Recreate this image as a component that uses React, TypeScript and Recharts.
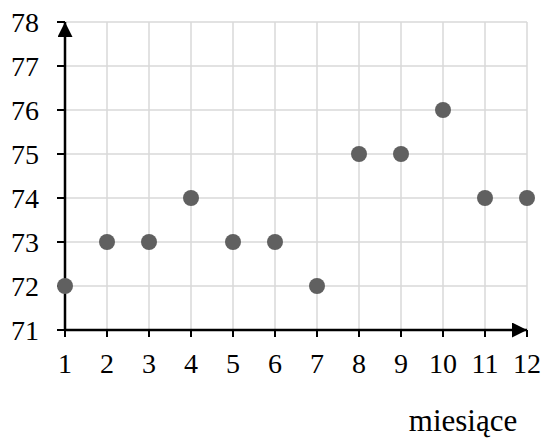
import React from "react";
import { ScatterChart, Scatter, XAxis, YAxis, CartesianGrid } from "recharts";

const months = [1, 2, 3, 4, 5, 6, 7, 8, 9, 10, 11, 12];
const values = [72, 73, 73, 74, 73, 73, 72, 75, 75, 76, 74, 74];
const yTicks = [71, 72, 73, 74, 75, 76, 77, 78];
const xLabel = "miesiące";

const data = months.map((m, i) => ({ x: m, y: values[i] }));

const font = "Liberation Serif";

export default function App() {
  return (
    <div style={{ position: "absolute", left: 0, top: 0, width: 544, height: 439, background: "#fff", fontFamily: font }}>
      <ScatterChart width={544} height={439} margin={{ top: 22, right: 17, bottom: 0, left: 0 }} style={{ fontFamily: font }}>
        <defs>
          <marker id="arrow" viewBox="0 0 10 10" refX="10" refY="5" markerWidth="17" markerHeight="15"
            markerUnits="userSpaceOnUse" orient="auto-start-reverse">
            <path d="M0,0 L10,5 L0,10 z" fill="#000" />
          </marker>
        </defs>
        <CartesianGrid stroke="#d9d9d9" strokeWidth={1.5} />
        <XAxis
          type="number"
          dataKey="x"
          domain={[1, 12]}
          ticks={months}
          interval={0}
          height={109}
          tickSize={7}
          tickMargin={16}
          axisLine={{ stroke: "#000", strokeWidth: 2.5, markerEnd: "url(#arrow)" }}
          tickLine={{ stroke: "#000", strokeWidth: 2 }}
          tick={{ fill: "#000", fontSize: 28, fontFamily: font }}
        />
        <YAxis
          type="number"
          dataKey="y"
          domain={[71, 78]}
          ticks={yTicks}
          interval={0}
          width={65}
          tickSize={8}
          tickMargin={18}
          axisLine={{ stroke: "#000", strokeWidth: 2.5, markerStart: "url(#arrow)" }}
          tickLine={{ stroke: "#000", strokeWidth: 2 }}
          tick={{ fill: "#000", fontSize: 28, fontFamily: font }}
        />
        <Scatter
          data={data}
          fill="#606060"
          isAnimationActive={false}
          shape={(p: any) => <circle cx={p.cx} cy={p.cy} r={8} fill="#606060" />}
        />
        <text x={463} y={431} textAnchor="middle" fontSize={31} fontFamily={font} fill="#000">
          {xLabel}
        </text>
      </ScatterChart>
    </div>
  );
}
